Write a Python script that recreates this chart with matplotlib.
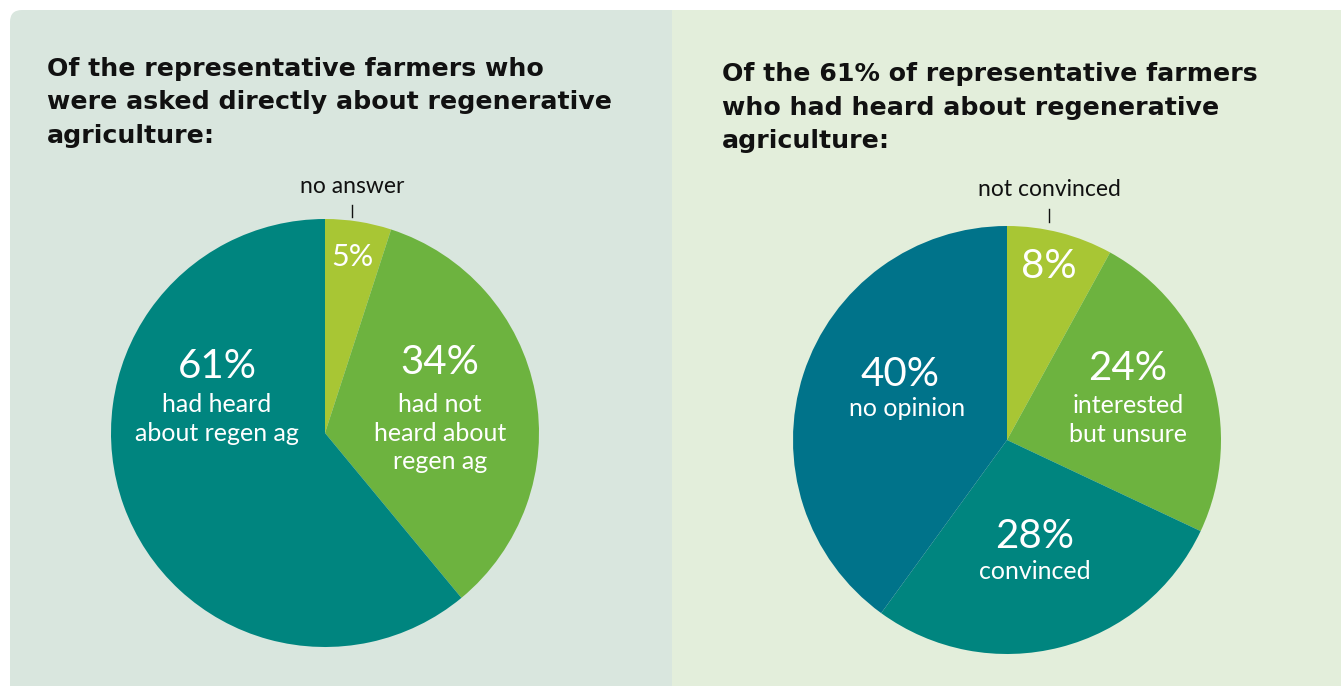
import matplotlib.pyplot as plt
from matplotlib.patches import FancyBboxPatch, Rectangle

# left pie: all representative farmers asked
left_values = [5, 34, 61]
left_pcts = ["5%", "34%", "61%"]
left_texts = ["", "had not\nheard about\nregen ag", "had heard\nabout regen ag"]
left_title = "Of the representative farmers who\nwere asked directly about regenerative\nagriculture:"

# right pie: the 61% who had heard about regen ag
right_values = [8, 24, 28, 40]
right_pcts = ["8%", "24%", "28%", "40%"]
right_texts = ["", "interested\nbut unsure", "convinced", "no opinion"]
right_title = "Of the 61% of representative farmers\nwho had heard about regenerative\nagriculture:"

W, H = 1343, 686
fig = plt.figure(figsize=(W / 100, H / 100), dpi=100)
fig.patch.set_facecolor("white")

LIME = "#a8c634"
GREEN = "#6db33f"
TEAL = "#00857f"
BLUE = "#00738a"


def px(x, y):
    # pixel (from top-left) -> figure fraction
    return x / W, 1 - y / H


# panel backgrounds
bg = fig.add_axes([0, 0, 1, 1])
bg.set_xlim(0, W)
bg.set_ylim(H, 0)
bg.axis("off")
bg.add_patch(FancyBboxPatch((10, 10), 1331, 700, boxstyle="round,pad=0,rounding_size=12",
                            fc="#d9e6de", ec="none"))
bg.add_patch(Rectangle((672, 10), 669, 700, fc="#e3eedb", ec="none"))


def draw_pie(cx, cy, r, values, colors):
    left, bottom = px(cx - r, cy + r)
    ax = fig.add_axes([left, bottom, 2 * r / W, 2 * r / H])
    ax.pie(values, colors=colors, startangle=90, counterclock=False,
           wedgeprops=dict(linewidth=0))
    ax.set_xlim(-1, 1)
    ax.set_ylim(-1, 1)
    ax.set_aspect("equal")
    ax.axis("off")
    return ax


draw_pie(325, 433, 214, left_values, [LIME, GREEN, TEAL])
draw_pie(1007, 440, 214, right_values, [LIME, GREEN, TEAL, BLUE])

title_kw = dict(fontsize=18.2, fontweight="bold", family="DejaVu Sans", color="#111111",
                va="top", ha="left", linespacing=1.5)
fig.text(*px(47, 57), left_title, **title_kw)
fig.text(*px(722, 62), right_title, **title_kw)

big = dict(fontsize=29, color="white", ha="center", va="center", family="Lato", fontweight="normal")
small = dict(fontsize=18, color="white", ha="center", va="top", family="Lato", fontweight="normal",
             linespacing=1.3)

# left labels
fig.text(*px(352, 257), left_pcts[0], **{**big, "fontsize": 22})
fig.text(*px(440, 363), left_pcts[1], **big)
fig.text(*px(440, 393), left_texts[1], **small)
fig.text(*px(217, 366), left_pcts[2], **big)
fig.text(*px(217, 393), left_texts[2], **small)

# right labels
fig.text(*px(1049, 267), right_pcts[0], **big)
fig.text(*px(1128, 369), right_pcts[1], **big)
fig.text(*px(1128, 394), right_texts[1], **small)
fig.text(*px(1035, 536), right_pcts[2], **big)
fig.text(*px(1035, 560), right_texts[2], **small)
fig.text(*px(900, 374), right_pcts[3], **big)
fig.text(*px(907, 397), right_texts[3], **small)

# callouts above the small slices
call = dict(fontsize=16.5, color="#111111", ha="center", va="center", family="Lato", fontweight="normal")
fig.text(*px(352, 186), "no answer", **call)
fig.text(*px(1049, 189), "not convinced", **call)
bg.plot([352, 352], [205, 217], color="#111111", lw=1)
bg.plot([1049, 1049], [209, 222], color="#111111", lw=1)

fig.savefig("out.png", dpi=100)
